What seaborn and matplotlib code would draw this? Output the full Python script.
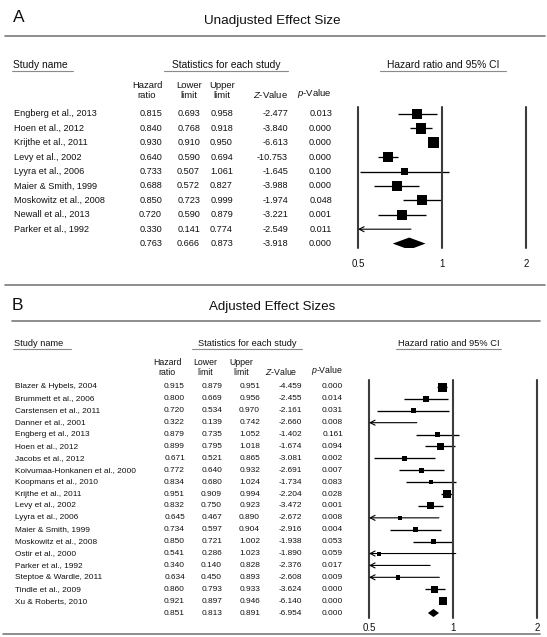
import numpy as np
import matplotlib
matplotlib.use("Agg")
import matplotlib.pyplot as plt
import matplotlib.transforms as mtransforms
from matplotlib.ticker import NullLocator
import seaborn as sns

# Panel A: unadjusted
names_a = ["Engberg et al., 2013", "Hoen et al., 2012", "Krijthe et al., 2011",
           "Levy et al., 2002", "Lyyra et al., 2006", "Maier & Smith, 1999",
           "Moskowitz et al., 2008", "Newall et al., 2013", "Parker et al., 1992"]
hr_a = [0.815, 0.840, 0.930, 0.640, 0.733, 0.688, 0.850, 0.720, 0.330]
lo_a = [0.693, 0.768, 0.910, 0.590, 0.507, 0.572, 0.723, 0.590, 0.141]
hi_a = [0.958, 0.918, 0.950, 0.694, 1.061, 0.827, 0.999, 0.879, 0.774]
z_a = [-2.477, -3.840, -6.613, -10.753, -1.645, -3.988, -1.974, -3.221, -2.549]
p_a = [0.013, 0.000, 0.000, 0.000, 0.100, 0.000, 0.048, 0.001, 0.011]
wt_a = [10.5, 10.5, 11, 10, 7, 10, 10, 9.5, 6]   # relative box size
summ_a = [0.763, 0.666, 0.873, -3.918, 0.000]  # hr, lower, upper, z, p

# Panel B: adjusted
names_b = ["Blazer & Hybels, 2004", "Brummett et al., 2006", "Carstensen et al., 2011",
           "Danner et al., 2001", "Engberg et al., 2013", "Hoen et al., 2012",
           "Jacobs et al., 2012", "Koivumaa-Honkanen et al., 2000", "Koopmans et al., 2010",
           "Krijthe et al., 2011", "Levy et al., 2002", "Lyyra et al., 2006",
           "Maier & Smith, 1999", "Moskowitz et al., 2008", "Ostir et al., 2000",
           "Parker et al., 1992", "Steptoe & Wardle, 2011", "Tindle et al., 2009",
           "Xu & Roberts, 2010"]
hr_b = [0.915, 0.800, 0.720, 0.322, 0.879, 0.899, 0.671, 0.772, 0.834, 0.951,
        0.832, 0.645, 0.734, 0.850, 0.541, 0.340, 0.634, 0.860, 0.921]
lo_b = [0.879, 0.669, 0.534, 0.139, 0.735, 0.795, 0.521, 0.640, 0.680, 0.909,
        0.750, 0.467, 0.597, 0.721, 0.286, 0.140, 0.450, 0.793, 0.897]
hi_b = [0.951, 0.956, 0.970, 0.742, 1.052, 1.018, 0.865, 0.932, 1.024, 0.994,
        0.923, 0.890, 0.904, 1.002, 1.023, 0.828, 0.893, 0.933, 0.946]
z_b = [-4.459, -2.455, -2.161, -2.660, -1.402, -1.674, -3.081, -2.691, -1.734, -2.204,
       -3.472, -2.672, -2.916, -1.938, -1.890, -2.376, -2.608, -3.624, -6.140]
p_b = [0.000, 0.014, 0.031, 0.008, 0.161, 0.094, 0.002, 0.007, 0.083, 0.028,
       0.001, 0.008, 0.004, 0.053, 0.059, 0.017, 0.009, 0.000, 0.000]
wt_b = [9, 6, 5, 4, 5, 7, 5, 5, 4, 8, 7, 4.5, 5, 5, 4, 4, 4.5, 7, 8.5]
summ_b = [0.851, 0.813, 0.891, -6.954, 0.000]

ticks = [0.5, 1, 2]
tick_labels = ["0.5", "1", "2"]

sns.set_style("white")
plt.rcParams['font.family'] = ['Liberation Sans', 'DejaVu Sans']
plt.rcParams['mathtext.fontset'] = 'custom'
plt.rcParams['mathtext.it'] = 'Liberation Sans:italic'
plt.rcParams['mathtext.rm'] = 'Liberation Sans'

W, H = 547, 637
fig = plt.figure(figsize=(W / 100, H / 100), dpi=100)
TXT = "#111111"
RULE = "#7a7a7a"


def fx(x):
    return x / W


def fy(y):
    return 1 - y / H


def rule(x0, x1, y, lw=1.2, color=RULE):
    fig.add_artist(plt.Line2D([fx(x0), fx(x1)], [fy(y), fy(y)], lw=lw,
                              color=color, transform=fig.transFigure))


def ptext(x, y, s, **kw):
    kw.setdefault("color", TXT)
    fig.text(fx(x), fy(y), s, **kw)


def forest(names, hr, lo, hi, z, p, wt, summ, g):
    n = len(names)
    x05, x2 = g["x05"], g["x2"]
    ytop, ybot, row0, step = g["ytop"], g["ybot"], g["row0"], g["step"]
    ax = fig.add_axes([fx(x05), fy(ybot), fx(x2) - fx(x05), (ybot - ytop) / H])
    ax.set_xscale("log")

    rows = np.arange(n)
    # confidence intervals
    for i in range(n):
        if lo[i] < 0.5:
            ax.annotate("", xy=(0.5, i), xytext=(hi[i], i),
                        arrowprops=dict(arrowstyle="->,head_length=0.35,head_width=0.18",
                                        lw=0.8, color="black", shrinkA=0, shrinkB=0))
        else:
            ax.hlines(i, lo[i], hi[i], color="black", lw=0.95)
    # study boxes
    sns.scatterplot(x=hr, y=rows, marker="s", s=(np.array(wt) * 0.72) ** 2,
                    color="black", linewidth=0, legend=False, ax=ax)
    # summary diamond
    dh = g["dh"]
    ax.fill([summ[1], summ[0], summ[2], summ[0]], [n, n - dh, n, n + dh],
            color="black", lw=0)

    for v in ticks:
        ax.axvline(v, color="#3c3c3c", lw=1.5, clip_on=False)
    ax.set_xlim(0.5, 2)
    top = -(row0 - ytop) / step
    bot = n + (ybot - (row0 + n * step)) / step
    ax.set_ylim(bot, top)
    ax.set_xticks(ticks)
    ax.set_xticklabels(tick_labels)
    ax.xaxis.set_minor_locator(NullLocator())
    ax.tick_params(axis="x", length=0, pad=g["pad"], labelsize=g["tfs"], colors=TXT)
    ax.set_yticks([])
    ax.set_xlabel("")
    ax.set_ylabel("")
    for s in ax.spines.values():
        s.set_visible(False)
    ax.patch.set_alpha(0)

    trans = mtransforms.blended_transform_factory(fig.transFigure, ax.transData)
    fs = g["fs"]
    for i in range(n):
        ax.text(fx(g["name_x"]), i, names[i], transform=trans, ha="left",
                va="center", fontsize=fs, color=TXT)
    cols = [hr + [summ[0]], lo + [summ[1]], hi + [summ[2]], z + [summ[3]], p + [summ[4]]]
    for xr, vals in zip(g["col_x"], cols):
        for i, v in enumerate(vals):
            ax.text(fx(xr), i, f"{v:.3f}", transform=trans, ha="right",
                    va="center", fontsize=fs, color=TXT)
    return ax


def headers(g):
    hf = g["hfs"]
    y = g["hy"]
    ptext(g["name_x"] - 1, y, "Study name", ha="left", va="center", fontsize=hf)
    ptext(g["stat_c"], y, "Statistics for each study", ha="center", va="center", fontsize=hf)
    ptext(g["ci_c"], y, "Hazard ratio and 95% CI", ha="center", va="center", fontsize=hf)
    uy = y + g["ul"]
    rule(g["name_x"] - 2, g["name_x"] + g["name_ul"], uy, lw=0.8, color="#8a8a8a")
    rule(g["stat_ul"][0], g["stat_ul"][1], uy, lw=0.8, color="#8a8a8a")
    rule(g["ci_ul"][0], g["ci_ul"][1], uy, lw=0.8, color="#8a8a8a")
    sy = g["sy"]
    for xc, s in zip(g["sub_x"][:3], ["Hazard\nratio", "Lower\nlimit", "Upper\nlimit"]):
        ptext(xc, sy, s, ha="center", va="bottom", fontsize=g["sfs"], linespacing=1.1)
    ptext(g["sub_x"][3], sy, "$Z$-Value", ha="center", va="bottom", fontsize=g["sfs"])
    ptext(g["sub_x"][4], sy, "$p$-Value", ha="center", va="bottom", fontsize=g["sfs"])


# ---- panel A
ptext(13, 18, "A", ha="left", va="center", fontsize=12.5)
ptext(272, 21, "Unadjusted Effect Size", ha="center", va="center", fontsize=9.7)
rule(5, 545, 36)
geo_a = dict(x05=358, x2=526, ytop=107, ybot=248, row0=114, step=14.4, dh=0.42,
             pad=8, tfs=7, fs=6.6, name_x=14,
             col_x=[162, 200, 233, 288, 332])
forest(names_a, hr_a, lo_a, hi_a, z_a, p_a, wt_a, summ_a, geo_a)
headers(dict(hfs=7.4, hy=65, name_x=14, name_ul=59, ul=5.5,
             stat_c=226, stat_ul=(164, 288), ci_c=443, ci_ul=(380, 506),
             sy=100, sfs=6.8, sub_x=[147, 189, 222, 270, 314]))

rule(5, 545, 285)

# ---- panel B
ptext(12, 305, "B", ha="left", va="center", fontsize=12.5)
ptext(272, 307, "Adjusted Effect Sizes", ha="center", va="center", fontsize=9.6)
rule(12, 540, 321)
geo_b = dict(x05=369, x2=537, ytop=380, ybot=618, row0=387, step=11.895, dh=0.34,
             pad=3.5, tfs=7, fs=5.95, name_x=15,
             col_x=[185, 222, 260, 302, 343])
forest(names_b, hr_b, lo_b, hi_b, z_b, p_b, wt_b, summ_b, geo_b)
headers(dict(hfs=6.7, hy=344, name_x=15, name_ul=56, ul=5,
             stat_c=247, stat_ul=(192, 302), ci_c=449, ci_ul=(396, 501),
             sy=377, sfs=6.3, sub_x=[167, 205, 241, 281, 327]))

rule(3, 540, 634)

fig.savefig("out.png", dpi=100)
